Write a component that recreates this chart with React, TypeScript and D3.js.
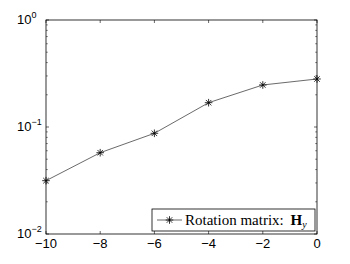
import React, { useEffect, useRef } from "react";
import * as d3 from "d3";

// values
const xValues = [-10, -8, -6, -4, -2, 0];
const errValues = [0.0315, 0.0575, 0.0873, 0.1687, 0.247, 0.281];
const xTicks = [-10, -8, -6, -4, -2, 0];
const yDecades = [-2, -1, 0];
const legendLabel = "Rotation matrix: ";

const W = 350;
const H = 264;
const margin = { top: 20, right: 33, bottom: 30, left: 46 };

export default function App() {
  const ref = useRef<SVGSVGElement>(null);

  useEffect(() => {
    const svg = d3.select(ref.current);
    svg.selectAll("*").remove();

    const x = d3
      .scaleLinear()
      .domain([-10, 0])
      .range([margin.left, W - margin.right]);
    const y = d3
      .scaleLog()
      .domain([0.01, 1])
      .range([H - margin.bottom, margin.top]);

    const x0 = x.range()[0],
      x1 = x.range()[1];
    const y0 = y.range()[0],
      y1 = y.range()[1];

    svg.append("rect").attr("width", W).attr("height", H).attr("fill", "#fff");

    const g = svg.append("g");
    const tickLen = 3;
    const minorLen = 1.8;

    // x ticks (bottom + top, inward)
    xTicks.forEach((t) => {
      const px = x(t);
      g.append("line")
        .attr("x1", px).attr("x2", px)
        .attr("y1", y0).attr("y2", y0 - tickLen)
        .attr("stroke", "#000").attr("stroke-width", 0.6);
      g.append("line")
        .attr("x1", px).attr("x2", px)
        .attr("y1", y1).attr("y2", y1 + tickLen)
        .attr("stroke", "#000").attr("stroke-width", 0.6);
      g.append("text")
        .attr("x", px)
        .attr("y", y0 + 14)
        .attr("text-anchor", "middle")
        .style("font-family", "'Liberation Sans', Arial, sans-serif")
        .style("font-size", "13px")
        .text(t < 0 ? "\u2212" + Math.abs(t) : String(t));
    });

    // y ticks major + minor (left + right, inward)
    yDecades.forEach((e) => {
      const py = y(Math.pow(10, e));
      [
        [x0, tickLen],
        [x1, -tickLen],
      ].forEach(([bx, d]) => {
        g.append("line")
          .attr("x1", bx).attr("x2", bx + d)
          .attr("y1", py).attr("y2", py)
          .attr("stroke", "#000").attr("stroke-width", 0.6);
      });
      const lbl = g
        .append("text")
        .attr("x", x0 - 29)
        .attr("y", py + 4)
        .style("font-family", "'Liberation Sans', Arial, sans-serif")
        .style("font-size", "13px");
      lbl.append("tspan").text("10");
      lbl
        .append("tspan")
        .attr("dy", -6)
        .style("font-size", "9px")
        .text(e < 0 ? "\u2212" + Math.abs(e) : String(e));
      if (e < 0) {
        for (let k = 2; k <= 9; k++) {
          const my = y(k * Math.pow(10, e));
          [
            [x0, minorLen],
            [x1, -minorLen],
          ].forEach(([bx, d]) => {
            g.append("line")
              .attr("x1", bx).attr("x2", bx + d)
              .attr("y1", my).attr("y2", my)
              .attr("stroke", "#000").attr("stroke-width", 0.5);
          });
        }
      }
    });

    // box
    g.append("rect")
      .attr("x", x0).attr("y", y1)
      .attr("width", x1 - x0).attr("height", y0 - y1)
      .attr("fill", "none").attr("stroke", "#000").attr("stroke-width", 0.8);

    // data line
    const pts = xValues.map((v, i) => [v, errValues[i]] as [number, number]);
    const line = d3
      .line<[number, number]>()
      .x((d) => x(d[0]))
      .y((d) => y(d[1]));
    g.append("path")
      .attr("d", line(pts))
      .attr("fill", "none")
      .attr("stroke", "#444")
      .attr("stroke-width", 0.8);

    const star = (sel: any, cx: number, cy: number, r: number) => {
      const s = sel.append("g").attr("transform", `translate(${cx},${cy})`);
      const d = r * 0.72;
      [
        [-r, 0, r, 0],
        [0, -r, 0, r],
        [-d, -d, d, d],
        [-d, d, d, -d],
      ].forEach(([a, b, c, e]) => {
        s.append("line")
          .attr("x1", a).attr("y1", b).attr("x2", c).attr("y2", e)
          .attr("stroke", "#000").attr("stroke-width", 0.8);
      });
    };
    pts.forEach((p) => star(g, x(p[0]), y(p[1]), 3.8));

    // legend
    const lx = 152,
      ly = 209,
      lw = 163,
      lh = 22;
    g.append("rect")
      .attr("x", lx).attr("y", ly)
      .attr("width", lw).attr("height", lh)
      .attr("fill", "#fff").attr("stroke", "#000").attr("stroke-width", 0.8);
    g.append("line")
      .attr("x1", lx + 5).attr("x2", lx + 30)
      .attr("y1", ly + lh / 2).attr("y2", ly + lh / 2)
      .attr("stroke", "#444").attr("stroke-width", 0.8);
    star(g, lx + 17.5, ly + lh / 2, 3.8);
    const lt = g
      .append("text")
      .attr("x", lx + 33)
      .attr("y", ly + 15.5)
      .style("font-family", "'Liberation Serif', 'DejaVu Serif', serif")
      .style("font-size", "15px");
    lt.append("tspan").text(legendLabel);
    lt.append("tspan").attr("dx", 3).style("font-weight", "bold").text("H");
    lt.append("tspan")
      .attr("dy", 3.5)
      .style("font-style", "italic")
      .style("font-size", "10px")
      .text("y");
  }, []);

  return (
    <svg
      ref={ref}
      width={W}
      height={H}
      style={{ position: "absolute", left: 0, top: 0 }}
    />
  );
}
